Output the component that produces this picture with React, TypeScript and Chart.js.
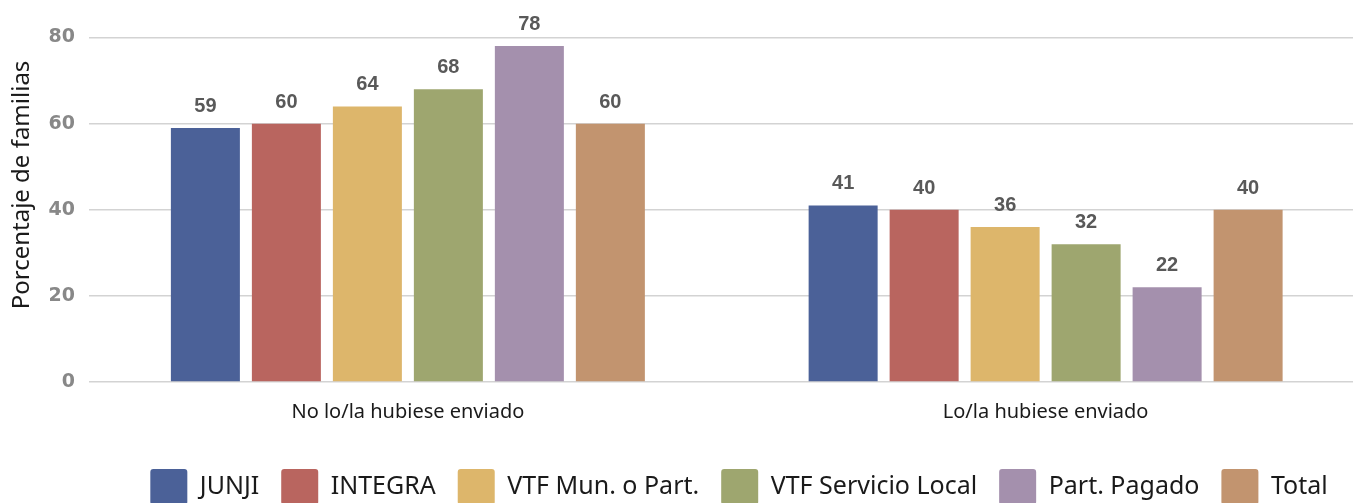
import React, { useEffect, useRef } from "react";
import { Chart, registerables } from "chart.js";

Chart.register(...registerables);

const categories = ["No lo/la hubiese enviado", "Lo/la hubiese enviado"];
const seriesNames = ["JUNJI", "INTEGRA", "VTF Mun. o Part.", "VTF Servicio Local", "Part. Pagado", "Total"];
const junji = [59, 41];
const integra = [60, 40];
const vtfMun = [64, 36];
const vtfLocal = [68, 32];
const partPagado = [78, 22];
const total = [60, 40];
const seriesValues = [junji, integra, vtfMun, vtfLocal, partPagado, total];
const seriesColors = ["#4B6198", "#B9655F", "#DDB66B", "#9EA66F", "#A490AD", "#C2946F"];
const yTicks = [0, 20, 40, 60, 80];
const yTitle = "Porcentaje de familias";

const dataLabelPlugin = {
  id: "dataLabels",
  afterDatasetsDraw(chart: any) {
    const ctx = chart.ctx;
    ctx.save();
    ctx.font = "bold 20px 'Liberation Sans', Arial, sans-serif";
    ctx.fillStyle = "#595959";
    ctx.textAlign = "center";
    ctx.textBaseline = "middle";
    chart.data.datasets.forEach((ds: any, i: number) => {
      const meta = chart.getDatasetMeta(i);
      meta.data.forEach((bar: any, j: number) => {
        ctx.fillText(String(ds.data[j]), bar.x, bar.y - 21.5);
      });
    });
    ctx.restore();
  },
};

const yTitlePlugin = {
  id: "yTitleCustom",
  afterDraw(chart: any) {
    const ctx = chart.ctx;
    ctx.save();
    ctx.translate(22, 185);
    ctx.rotate(-Math.PI / 2);
    ctx.font = "24px 'Noto Sans', sans-serif";
    ctx.fillStyle = "#1a1a1a";
    ctx.textAlign = "center";
    ctx.textBaseline = "middle";
    ctx.fillText(yTitle, 0, 0);
    ctx.restore();
  },
};

export default function App() {
  const canvasRef = useRef<HTMLCanvasElement | null>(null);

  useEffect(() => {
    if (!canvasRef.current) return;
    const chart = new Chart(canvasRef.current, {
      type: "bar",
      data: {
        labels: categories,
        datasets: seriesNames.map((name, i) => ({
          label: name,
          data: seriesValues[i],
          backgroundColor: seriesColors[i],
          borderWidth: 0,
          categoryPercentage: 0.762,
          barPercentage: 0.852,
        })),
      },
      options: {
        animation: false,
        responsive: true,
        maintainAspectRatio: false,
        layout: { padding: { top: 37.5, left: 0, right: 0, bottom: 0 } },
        plugins: {
          tooltip: { enabled: false },
          legend: {
            position: "bottom",
            labels: {
              boxWidth: 37,
              boxHeight: 36,
              useBorderRadius: true,
              borderRadius: 3,
              padding: 22,
              color: "#1a1a1a",
              font: { family: "'Noto Sans', sans-serif", size: 25 },
            },
          },
        },
        scales: {
          x: {
            grid: { display: false },
            border: { display: false },
            ticks: {
              color: "#1a1a1a",
              padding: 10,
              font: { family: "'Noto Sans', sans-serif", size: 20 },
            },
            afterFit(scale: any) {
              scale.height = 65;
            },
          },
          y: {
            min: 0,
            max: 80,
            afterBuildTicks(scale: any) {
              scale.ticks = yTicks.map((v) => ({ value: v }));
            },
            grid: { color: "#d3d3d3", lineWidth: 1.5, drawTicks: false },
            border: { display: false },
            ticks: {
              color: "#888888",
              padding: 14,
              font: { family: "'DejaVu Sans', sans-serif", size: 19, weight: "bold" },
            },
            afterFit(scale: any) {
              scale.width = 89;
            },
          },
          y2: {
            position: "right",
            display: true,
            grid: { display: false },
            border: { display: false },
            ticks: { display: false },
            afterFit(scale: any) {
              scale.width = 113.5;
            },
          },
        },
      },
      plugins: [dataLabelPlugin, yTitlePlugin],
    });
    return () => chart.destroy();
  }, []);

  return (
    <div
      style={{
        position: "absolute",
        left: 0,
        top: 0,
        width: 1353,
        height: 503,
        overflow: "hidden",
        background: "#fff",
      }}
    >
      <div style={{ position: "relative", width: 1478, height: 515 }}>
        <canvas ref={canvasRef} />
      </div>
    </div>
  );
}
